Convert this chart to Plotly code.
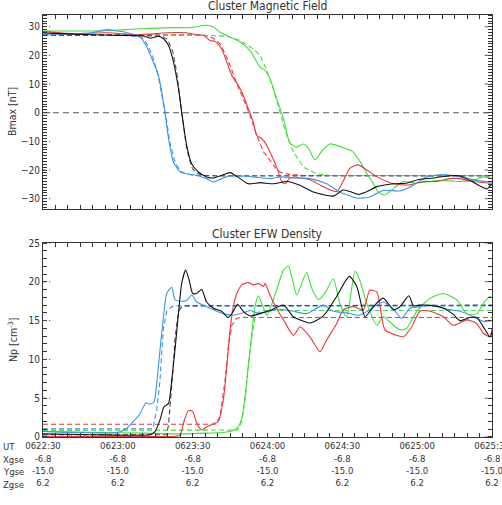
import plotly.graph_objects as go

# ---------------- data (time in seconds after 06:22:30 UT) ----------------
# Top panel: Bmax [nT]
bk_t = [0,10,20,30,40,43,46.3,48.3,50.3,52.3,54.3,55.6,57.6,59.6,62.3,65.6,68.3,71.6,75,79,82.3,87,92.3,97.7,103,108.4,112,116.4,120.3,123,126.4,130,133.8,140.5,146,151,156.5,163,167,172.5,178,179.2,180]
bk_b = [27.8,27.5,27.2,27.0,26.8,26.0,26.7,25.8,23.5,17.7,8.4,0.2,-11.4,-17.8,-20.7,-22.4,-22.8,-21.9,-20.9,-23.0,-24.8,-24.4,-24.8,-24.0,-25.3,-27.7,-28.5,-29.1,-27.0,-27.5,-28.5,-27.5,-25.8,-24.8,-24.5,-23.2,-22.8,-22.0,-22.0,-24.3,-26.6,-25.5,-25.0]

bl_t = [0,10,20,25.5,30,33.5,37.5,39,41.6,44.2,46.3,47.6,48.9,50.3,52.3,55,57.6,61.6,65.6,68.3,71.6,75,79,84.3,91,95,101,107,113.7,119,125.8,128,131,136.4,143,148.5,153.8,160.5,167.2,173.9,179.2,180]
bl_b = [27.2,27.4,28.0,29.0,28.5,28.0,27.0,26.4,22.9,17.7,13.0,7.2,0.2,-9.0,-17.2,-20.7,-21.3,-21.9,-23.0,-24.2,-23.0,-22.1,-22.1,-22.4,-23.0,-22.4,-22.7,-23.0,-24.8,-27.7,-29.8,-29.8,-29.4,-27.1,-27.3,-25.3,-22.4,-21.6,-22.4,-23.6,-24.2,-24.0]

rd_t = [0,12,25.5,39,49.6,57.6,61.6,64.3,67,69,71.6,73.7,75.7,78.3,80.3,82.3,84.3,85.7,87.7,89.7,91,93.6,95.7,97,99,103,107,111,115,117.8,120.3,123,126.4,129.8,133.8,140.5,147,152.5,158,163,167,172.5,180]
rd_b = [28.4,27.6,27.9,27.2,27.9,27.9,27.2,27.0,25.2,24.9,22.3,17.7,13.0,9.5,6.0,1.4,-3.3,-7.9,-9.0,-11.4,-13.7,-18.8,-24.0,-24.8,-22.8,-22.8,-23.4,-25.2,-26.9,-27.5,-24.0,-19.4,-18.2,-20.0,-22.3,-24.8,-25.2,-24.0,-24.0,-23.0,-23.0,-24.0,-24.6]

gr_t = [0,12,25.5,39,52.3,59,65.6,68.3,71,75,79,83,87,89,91,93.7,96.4,99,101.7,104.4,106.5,109,112,115,120.3,124,127,130,132.4,134.4,137,140.5,144.5,148.5,153.8,159,167.2,172.5,176.5,180]
gr_b = [28.5,28.5,28.6,29.3,29.7,29.7,30.5,29.9,28.1,26.4,24.7,21.7,15.9,14.8,11.9,4.9,-2.1,-10.6,-12.0,-10.9,-12.5,-16.5,-13.1,-10.9,-12.2,-13.5,-16.9,-21.5,-24.6,-27.7,-28.7,-26.5,-24.0,-24.5,-24.2,-23.6,-24.0,-23.6,-22.4,-23.0]

# Top panel: fitted (dashed) profiles
bl_fit_t = [0,30,38,40,42,44,46,48,49.5,51,53,55,57,60,65,180]
bl_fit_b = [27.0,27.0,26.7,26.0,23.5,19.5,13.5,4.5,-2.5,-11.0,-17.5,-20.3,-21.3,-21.8,-21.9,-21.9]
bk_fit_t = [0,40,48,50,52,53.6,55.6,57.6,59.6,61,63,66,70,180]
bk_fit_b = [27.0,27.0,26.6,25.5,21.5,14.2,0.2,-12.6,-19.0,-20.7,-21.6,-22.0,-22.1,-22.1]
rd_fit_t = [0,60,66,68.3,71,73,75,77.7,80.3,83,85.7,88.4,91,93,95,99,105,180]
rd_fit_b = [27.2,27.2,26.8,26.0,24.0,20.6,16.5,10.1,4.9,-0.9,-7.9,-13.7,-16.6,-19.0,-20.7,-21.6,-21.9,-21.9]
gr_fit_t = [0,65,73.7,79,84.3,87,89.7,92.3,95,97.7,100.4,104.4,109.7,115,180]
gr_fit_b = [27.0,27.0,26.7,25.2,22.3,20.0,14.8,8.4,0.2,-7.9,-13.7,-19.0,-21.3,-21.9,-22.0]

zero_t = [0, 180]
zero_b = [0, 0]

# Bottom panel: Np [cm^-3]
bl_np_t = [0,10,20,29.5,33.5,36.2,38.9,41.3,42.9,44.5,45.6,46.9,48.3,49.6,51.6,52.9,55,57.6,59.6,61.6,64.3,67,69.6,72.3,76.3,80.3,83,85.7,91,93.7,100.4,105.7,112.4,116.4,121.7,127,131,136.4,140.5,143.8,147.1,151.1,156.5,161.8,167.2,172.5,176.5,180]
bl_np = [0.7,0.6,0.55,0.56,1.1,2.0,3.0,4.4,4.25,4.55,6.9,11.2,15.5,18.5,19.3,17.7,17.5,17.6,18.3,17.4,17.0,16.6,16.2,15.9,15.7,16.0,16.3,16.0,16.2,16.5,16.2,15.9,17.0,16.2,16.0,15.7,16.4,17.4,16.5,15.3,16.6,16.8,17.0,16.5,16.2,15.5,14.9,15.0]

bk_np_t = [0,20,42.9,44.9,46.9,48.5,50.3,51.6,52.9,54.3,55.6,57.2,58.6,60,61.6,63.6,65.6,68.3,71.6,74.3,76.3,78,80.3,83,87,91,96.4,100.4,107,112.4,117.7,122.8,125.8,129.1,132.4,136.4,140.5,143.1,146.7,148.5,151.1,156.5,160.5,164.5,167.2,171.2,173.9,176.5,179.2,180]
bk_np = [0.4,0.3,0.3,0.7,2.2,3.9,4.3,7.3,11.2,15.9,19.8,21.5,20.2,18.5,18.5,19.0,17.4,16.6,16.2,15.4,16.2,17.1,16.2,15.6,15.9,16.3,17.0,15.5,14.7,15.6,18.1,20.7,19.4,15.5,16.8,17.9,16.4,16.8,18.2,16.9,17.0,16.9,16.6,15.8,15.0,15.4,15.4,14.2,12.9,13.5]

rd_np_t = [0,20,40,53,55,56.5,58.3,60,61.6,63.6,65.6,68.3,70.3,72.3,73.7,75,76.3,77.7,79.7,82.3,84.3,86.3,88.4,89,91,93.7,96.4,100.4,103,107,111,113.7,117.7,120.4,124.4,128.4,131,133.8,137.1,141.8,144.5,147.8,151.1,155.2,160.5,164.5,169.9,173.9,176.5,179.2,180]
rd_np = [0.1,0.05,0.05,0.1,0.25,2.0,3.4,3.3,1.8,0.9,1.3,1.7,2.0,4.8,9.1,13.8,16.8,18.5,19.6,19.9,19.6,19.8,19.4,19.8,18.3,16.5,15.1,13.1,14.2,12.9,11.0,12.5,14.6,16.4,16.8,16.4,18.9,18.7,13.8,13.1,12.9,14.2,16.2,16.2,15.5,14.4,15.1,14.6,13.4,12.9,14.0]

gr_np_t = [0,20,40,55,65.6,73.7,77.7,79.7,81,82.3,83.7,85,86.3,87.7,89.7,91,93.7,96.4,98.4,99.7,101.7,103.7,105.7,107.7,110.4,113,116.4,119,121.7,125.1,127,129.8,133.8,136.4,139.1,143.1,145.8,149.8,155.2,160.5,165.8,169.9,173.9,176.5,179.2,180]
gr_np = [0.7,0.6,0.5,0.4,0.5,0.64,1.1,2.4,5.2,9.1,13.4,16.8,18.2,17.2,15.7,16.5,19.0,21.5,22.0,20.7,18.3,19.8,21.2,19.2,17.7,18.5,20.4,17.2,15.5,21.4,20.2,17.2,14.4,15.5,14.8,13.8,14.0,16.2,17.9,18.5,17.7,15.9,15.9,17.2,18.1,17.9]

# Bottom panel: fitted (dashed) profiles
bl_np_fit_t = [0,44,45.6,46.9,47.6,48.3,49.6,51.6,54,180]
bl_np_fit = [1.05,1.05,3.5,7.3,11.0,14.0,16.2,16.8,16.9,16.9]
bk_np_fit_t = [0,49.5,50.3,51,52,52.9,54,55,57,180]
bk_np_fit = [0.3,0.3,1.5,4.0,8.2,12.5,15.5,16.6,16.9,17.0]
rd_np_fit_t = [0,69,71,73,74.3,75.7,77.7,80,180]
rd_np_fit = [1.65,1.65,2.6,7.3,11.6,14.4,15.3,15.4,15.4]
gr_np_fit_t = [0,78,79.7,81,82.3,83.7,85,87,89,180]
gr_np_fit = [0.85,0.9,2.0,4.8,9.1,12.9,15.5,16.2,16.3,16.3]

# Tick labels
tick_sec = [0, 30, 60, 90, 120, 150, 180]
ut_labels = ["0622:30", "0623:00", "0623:30", "0624:00", "0624:30", "0625:00", "0625:30"]
xgse = ["-6.8"] * 7
ygse = ["-15.0"] * 7
zgse = ["6.2"] * 7
row_names = ["UT", "Xgse", "Ygse", "Zgse"]
b_major = [-30, -20, -10, 0, 10, 20, 30]
np_major = [0, 5, 10, 15, 20, 25]

# ---------------- styling ----------------
C_BK = "#111111"
C_BL = "#3a96e8"
C_RD = "#e8383c"
C_GR = "#3ee03a"
FONT = "DejaVu Sans Condensed, DejaVu Sans, sans-serif"
TXT = "#333333"
TICK_FS = 9.5

fig = go.Figure()

def add(x, y, color, dash, axis):
    xa, ya = ("x", "y") if axis == 1 else ("x2", "y2")
    fig.add_trace(go.Scatter(
        x=x, y=y, mode="lines", xaxis=xa, yaxis=ya,
        line=dict(color=color, width=1.1, dash=dash,
                  shape="spline" if dash == "solid" else "linear", smoothing=0.6),
        hoverinfo="skip", showlegend=False))

DASH = "5px,3px"
# top panel
add(zero_t, zero_b, "#555555", "6px,4px", 1)
add(bl_fit_t, bl_fit_b, C_BL, DASH, 1)
add(rd_fit_t, rd_fit_b, C_RD, DASH, 1)
add(gr_fit_t, gr_fit_b, C_GR, DASH, 1)
add(bk_fit_t, bk_fit_b, "#555555", DASH, 1)
add(gr_t, gr_b, C_GR, "solid", 1)
add(rd_t, rd_b, C_RD, "solid", 1)
add(bl_t, bl_b, C_BL, "solid", 1)
add(bk_t, bk_b, C_BK, "solid", 1)
# bottom panel
add(rd_np_fit_t, rd_np_fit, C_RD, DASH, 2)
add(gr_np_fit_t, gr_np_fit, C_GR, DASH, 2)
add(bl_np_fit_t, bl_np_fit, C_BL, DASH, 2)
add(bk_np_fit_t, bk_np_fit, "#444444", DASH, 2)
add(gr_np_t, gr_np, C_GR, "solid", 2)
add(rd_np_t, rd_np, C_RD, "solid", 2)
add(bl_np_t, bl_np, C_BL, "solid", 2)
add(bk_np_t, bk_np, C_BK, "solid", 2)

ticktext = [f"{u}<br>{a}<br>{b}<br>{c}" for u, a, b, c in zip(ut_labels, xgse, ygse, zgse)]

xcommon = dict(range=[0, 180], showline=True, linecolor="#333", linewidth=1, mirror="allticks",
               ticks="inside", ticklen=4, tickcolor="#333", tickvals=tick_sec,
               minor=dict(dtick=5, ticks="inside", ticklen=4, tickcolor="#333"),
               showgrid=False, zeroline=False, automargin=False)
ycommon = dict(showline=True, linecolor="#333", linewidth=1, mirror="allticks",
               ticks="", showgrid=False, zeroline=False, automargin=False,
               tickfont=dict(family=FONT, size=10, color=TXT),
               minor=dict(dtick=1, ticks="inside", ticklen=4, tickcolor="#333"))

fig.update_layout(
    width=502, height=505,
    margin=dict(l=43, r=10, t=15, b=68, autoexpand=False),
    paper_bgcolor="white", plot_bgcolor="white",
    font=dict(family=FONT, color=TXT, size=11),
    xaxis=dict(domain=[0, 1], anchor="y", showticklabels=False, **xcommon),
    yaxis=dict(domain=[0.5403, 1.0], anchor="x", range=[-33.6, 34.1], tickvals=b_major, **ycommon),
    xaxis2=dict(domain=[0, 1], anchor="y2", showticklabels=True, ticktext=ticktext,
                ticklabeloverflow="allow",
                tickfont=dict(family=FONT, size=TICK_FS, color=TXT), **xcommon),
    yaxis2=dict(domain=[0, 0.4597], anchor="x2", range=[0, 25], tickvals=np_major, **ycommon),
)

# dotted major ticks (both sides)
for yr, vals in (("y", b_major), ("y2", np_major)):
    xr = "x domain" if yr == "y" else "x2 domain"
    for v in vals:
        for x0, x1 in ((0, 0.016), (0.984, 1.0)):
            fig.add_shape(type="line", xref=xr, yref=yr, x0=x0, x1=x1, y0=v, y1=v,
                          line=dict(color="#555", width=1, dash="dot"))

ann = [
    dict(text="Cluster Magnetic Field", x=0.5, y=1.0213, font=dict(size=12)),
    dict(text="Cluster EFW Density", x=0.5, y=0.481, font=dict(size=12)),
    dict(text="Bmax [nT]", x=-0.069, y=(0.5403 + 1) / 2, textangle=-90, font=dict(size=10.5)),
    dict(text="Np [cm<sup>-3</sup>]", x=-0.069, y=0.4597 / 2, textangle=-90, font=dict(size=10.5)),
]
for a in ann:
    fig.add_annotation(xref="paper", yref="paper", showarrow=False,
                       xanchor="center", yanchor="middle", **a)
row_py = [447 + i * 1.3 * TICK_FS for i in range(4)]
for name, py in zip(row_names, row_py):
    fig.add_annotation(xref="paper", yref="paper", showarrow=False, text=name,
                       x=(1 - 43) / 449, y=(437 - py) / 422, xanchor="left", yanchor="middle",
                       font=dict(size=TICK_FS))

fig.write_html("out.html")
